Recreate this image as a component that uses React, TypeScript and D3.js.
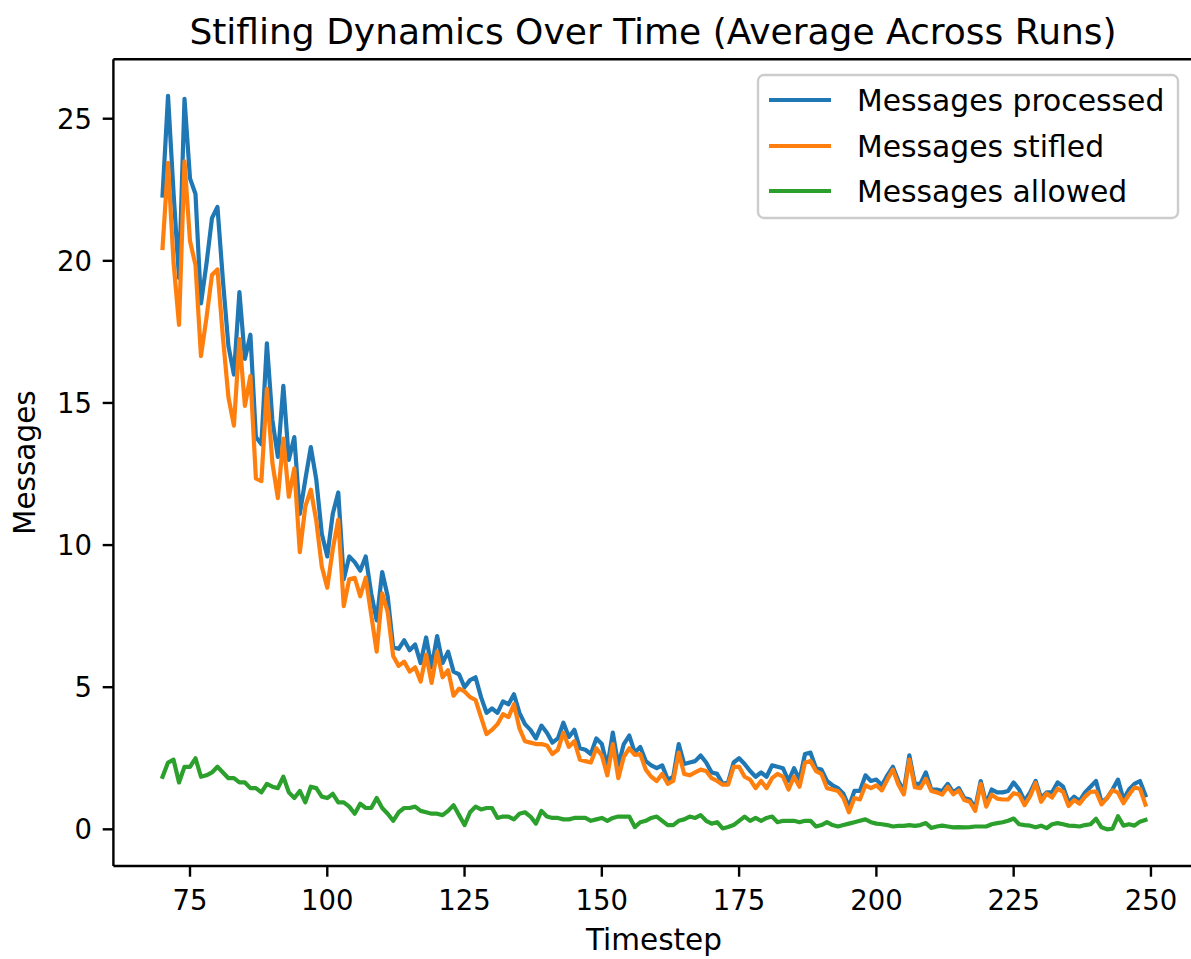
import React from "react";
import * as d3 from "d3";

// Timesteps 70..249 (one sample per step)
const startStep = 70;

const processed = [
  22.3, 25.8, 22.4, 19.4, 25.7, 22.9, 22.35, 18.5, 19.9, 21.5,
  21.9, 19.3, 17.0, 16.0, 18.9, 16.55, 17.4, 13.8, 13.55, 17.1,
  14.4, 13.1, 15.6, 13.0, 13.8, 11.1, 12.3, 13.45, 12.3, 10.4,
  9.6, 11.1, 11.85, 8.8, 9.6, 9.4, 9.1, 9.6, 8.3, 7.35,
  9.05, 8.2, 6.4, 6.35, 6.65, 6.3, 6.5, 5.85, 6.75, 5.7,
  6.8, 5.85, 6.25, 5.55, 5.45, 5.0, 5.25, 5.35, 4.65, 4.1,
  4.25, 4.1, 4.5, 4.4, 4.75, 4.1, 3.7, 3.5, 3.2, 3.65,
  3.4, 3.05, 3.2, 3.75, 3.25, 3.5, 2.85, 2.8, 2.65, 3.2,
  3.0, 2.2, 3.4, 2.25, 3.0, 3.3, 2.7, 2.9, 2.4, 2.25,
  2.15, 2.25, 1.75, 1.85, 3.0, 2.3, 2.35, 2.4, 2.6, 2.35,
  2.0, 1.95, 1.6, 1.65, 2.35, 2.5, 2.3, 2.05, 1.85, 2.0,
  1.85, 2.25, 2.2, 2.15, 1.7, 2.15, 1.75, 2.65, 2.7, 2.15,
  2.1, 1.7, 1.55, 1.45, 1.25, 0.8, 1.35, 1.35, 1.9, 1.7,
  1.75, 1.55, 1.9, 2.2, 1.7, 1.35, 2.6, 1.6, 1.6, 2.0,
  1.4, 1.4, 1.35, 1.6, 1.3, 1.45, 1.1, 1.05, 0.75, 1.7,
  0.9, 1.4, 1.3, 1.3, 1.35, 1.65, 1.4, 1.0, 1.3, 1.7,
  1.1, 1.3, 1.3, 1.65, 1.5, 0.95, 1.15, 1.0, 1.3, 1.5,
  1.7, 0.95, 1.1, 1.4, 1.75, 1.05, 1.4, 1.6, 1.7, 1.2,
];

const stifled = [
  20.45, 23.45, 19.95, 17.75, 23.5, 20.7, 19.85, 16.65, 18.0, 19.5,
  19.7, 17.3, 15.2, 14.2, 17.25, 14.9, 15.95, 12.35, 12.25, 15.5,
  12.9, 11.65, 13.75, 11.7, 12.7, 9.75, 11.35, 11.95, 10.85, 9.25,
  8.5, 9.85, 10.9, 7.85, 8.8, 8.85, 8.2, 8.85, 7.55, 6.25,
  8.3, 7.65, 6.1, 5.75, 5.9, 5.55, 5.7, 5.2, 6.15, 5.15,
  6.25, 5.35, 5.6, 4.7, 4.95, 4.85, 4.65, 4.55, 3.95, 3.35,
  3.5, 3.7, 4.05, 3.95, 4.4, 3.55, 3.1, 3.05, 3.0, 3.0,
  2.95, 2.65, 2.8, 3.4, 2.9, 3.1, 2.45, 2.4, 2.35, 2.85,
  2.6, 1.9, 3.0, 1.8, 2.55, 2.85, 2.62, 2.65, 2.1, 1.85,
  1.7, 1.95, 1.6, 1.7, 2.7, 1.95, 1.9, 2.0, 2.1, 2.05,
  1.8, 1.7, 1.57, 1.57, 2.2, 2.2, 1.85, 1.75, 1.45, 1.7,
  1.45, 1.8, 1.95, 1.85, 1.4, 1.85, 1.5, 2.35, 2.4, 2.05,
  1.95, 1.45, 1.4, 1.35, 1.1, 0.6, 1.1, 1.05, 1.55, 1.45,
  1.55, 1.37, 1.75, 2.1, 1.58, 1.23, 2.45, 1.48, 1.45, 1.78,
  1.35, 1.3, 1.22, 1.5, 1.23, 1.37, 1.03, 0.97, 0.65, 1.6,
  0.8, 1.22, 1.08, 1.05, 1.05, 1.27, 1.22, 0.85, 1.17, 1.63,
  0.97, 1.26, 1.12, 1.43, 1.32, 0.82, 1.03, 0.9, 1.15, 1.32,
  1.33, 0.88, 1.1, 1.38, 1.29, 0.92, 1.22, 1.47, 1.43, 0.87,
];

const allowed = [
  1.85, 2.35, 2.45, 1.65, 2.2, 2.2, 2.5, 1.85, 1.9, 2.0,
  2.2, 2.0, 1.8, 1.8, 1.65, 1.65, 1.45, 1.45, 1.3, 1.6,
  1.5, 1.45, 1.85, 1.3, 1.1, 1.35, 0.95, 1.5, 1.45, 1.15,
  1.1, 1.25, 0.95, 0.95, 0.8, 0.55, 0.9, 0.75, 0.75, 1.1,
  0.75, 0.55, 0.3, 0.6, 0.75, 0.75, 0.8, 0.65, 0.6, 0.55,
  0.55, 0.5, 0.65, 0.85, 0.5, 0.15, 0.6, 0.8, 0.7, 0.75,
  0.75, 0.4, 0.45, 0.45, 0.35, 0.55, 0.6, 0.45, 0.2, 0.65,
  0.45, 0.4, 0.4, 0.35, 0.35, 0.4, 0.4, 0.4, 0.3, 0.35,
  0.4, 0.3, 0.4, 0.45, 0.45, 0.45, 0.08, 0.25, 0.3, 0.4,
  0.45, 0.3, 0.15, 0.15, 0.3, 0.35, 0.45, 0.4, 0.5, 0.3,
  0.2, 0.25, 0.03, 0.08, 0.15, 0.3, 0.45, 0.3, 0.4, 0.3,
  0.4, 0.45, 0.25, 0.3, 0.3, 0.3, 0.25, 0.3, 0.3, 0.1,
  0.15, 0.25, 0.15, 0.1, 0.15, 0.2, 0.25, 0.3, 0.35, 0.25,
  0.2, 0.18, 0.15, 0.1, 0.12, 0.12, 0.15, 0.12, 0.15, 0.22,
  0.05, 0.1, 0.13, 0.1, 0.07, 0.08, 0.07, 0.08, 0.1, 0.1,
  0.1, 0.18, 0.22, 0.25, 0.3, 0.38, 0.18, 0.15, 0.13, 0.07,
  0.13, 0.04, 0.18, 0.22, 0.18, 0.13, 0.12, 0.1, 0.15, 0.18,
  0.37, 0.07, 0.0, 0.02, 0.46, 0.13, 0.18, 0.13, 0.27, 0.33,
];

const xTicks = [75, 100, 125, 150, 175, 200, 225, 250];
const yTicks = [0, 5, 10, 15, 20, 25];

const seriesNames = ["Messages processed", "Messages stifled", "Messages allowed"];
const seriesColors = ["#1f77b4", "#ff7f0e", "#2ca02c"];

const W = 1191;
const H = 959;
const FONT = "DejaVu Sans, sans-serif";

export default function App() {
  const steps = processed.map((_, i) => startStep + i);
  const allSeries = [processed, stifled, allowed];

  // matplotlib-style 5% data margins
  const xMin = d3.min(steps) as number;
  const xMax = d3.max(steps) as number;
  const xPad = (xMax - xMin) * 0.05;
  const yMin = d3.min(allSeries.flat()) as number;
  const yMax = d3.max(allSeries.flat()) as number;
  const yPad = (yMax - yMin) * 0.05;

  const left = 113.4;
  const right = 1194.6;
  const top = 59.3;
  const bottom = 866;

  const x = d3.scaleLinear().domain([xMin - xPad, xMax + xPad]).range([left, right]);
  const y = d3.scaleLinear().domain([yMin - yPad, yMax + yPad]).range([bottom, top]);

  const line = d3
    .line<number>()
    .x((_, i) => x(steps[i]))
    .y((d) => y(d));

  const legendX = 758;
  const legendY = 75;
  const legendW = 420;
  const legendH = 143;
  const rowY = [100, 146, 191];

  return (
    <svg
      width={W}
      height={H}
      style={{ position: "absolute", left: 0, top: 0, background: "#fff" }}
      fontFamily={FONT}
    >
      <defs>
        <clipPath id="plot-clip">
          <rect x={left} y={top} width={right - left} height={bottom - top} />
        </clipPath>
      </defs>
      <rect x={0} y={0} width={W} height={H} fill="#fff" />

      {/* title */}
      <text x={653} y={44} textAnchor="middle" fontSize={36} fill="#000">
        Stifling Dynamics Over Time (Average Across Runs)
      </text>

      {/* series */}
      <g clipPath="url(#plot-clip)">
        {allSeries.map((s, k) => (
          <path
            key={k}
            d={line(s) || ""}
            fill="none"
            stroke={seriesColors[k]}
            strokeWidth={4.2}
            strokeLinejoin="round"
            strokeLinecap="square"
          />
        ))}
      </g>

      {/* spines */}
      <g stroke="#000" strokeWidth={2.4} fill="none">
        <line x1={left} y1={top} x2={left} y2={bottom} />
        <line x1={left} y1={bottom} x2={right} y2={bottom} />
        <line x1={left} y1={top} x2={right} y2={top} />
        <line x1={right} y1={top} x2={right} y2={bottom} />
      </g>

      {/* x axis */}
      {xTicks.map((t) => (
        <g key={t} transform={`translate(${x(t)},0)`}>
          <line y1={bottom} y2={bottom + 10.7} stroke="#000" strokeWidth={2.4} />
          <text y={bottom + 44} textAnchor="middle" fontSize={27.5} fill="#000">
            {t}
          </text>
        </g>
      ))}
      <text x={(left + right) / 2} y={950} textAnchor="middle" fontSize={29.5} fill="#000">
        Timestep
      </text>

      {/* y axis */}
      {yTicks.map((t) => (
        <g key={t} transform={`translate(0,${y(t)})`}>
          <line x1={left - 10.7} x2={left} stroke="#000" strokeWidth={2.4} />
          <text x={92} y={10} textAnchor="end" fontSize={27.5} fill="#000">
            {t}
          </text>
        </g>
      ))}
      <text
        transform={`translate(35,${(top + bottom) / 2}) rotate(-90)`}
        textAnchor="middle"
        fontSize={29.5}
        fill="#000"
      >
        Messages
      </text>

      {/* legend */}
      <rect
        x={legendX}
        y={legendY}
        width={legendW}
        height={legendH}
        rx={6}
        fill="#fff"
        fillOpacity={0.8}
        stroke="#cccccc"
        strokeWidth={2.4}
      />
      {seriesNames.map((name, k) => (
        <g key={name}>
          <line
            x1={769}
            x2={831}
            y1={rowY[k]}
            y2={rowY[k]}
            stroke={seriesColors[k]}
            strokeWidth={4.2}
          />
          <text x={857} y={rowY[k] + 10.5} fontSize={29.8} fill="#000">
            {name}
          </text>
        </g>
      ))}
    </svg>
  );
}
